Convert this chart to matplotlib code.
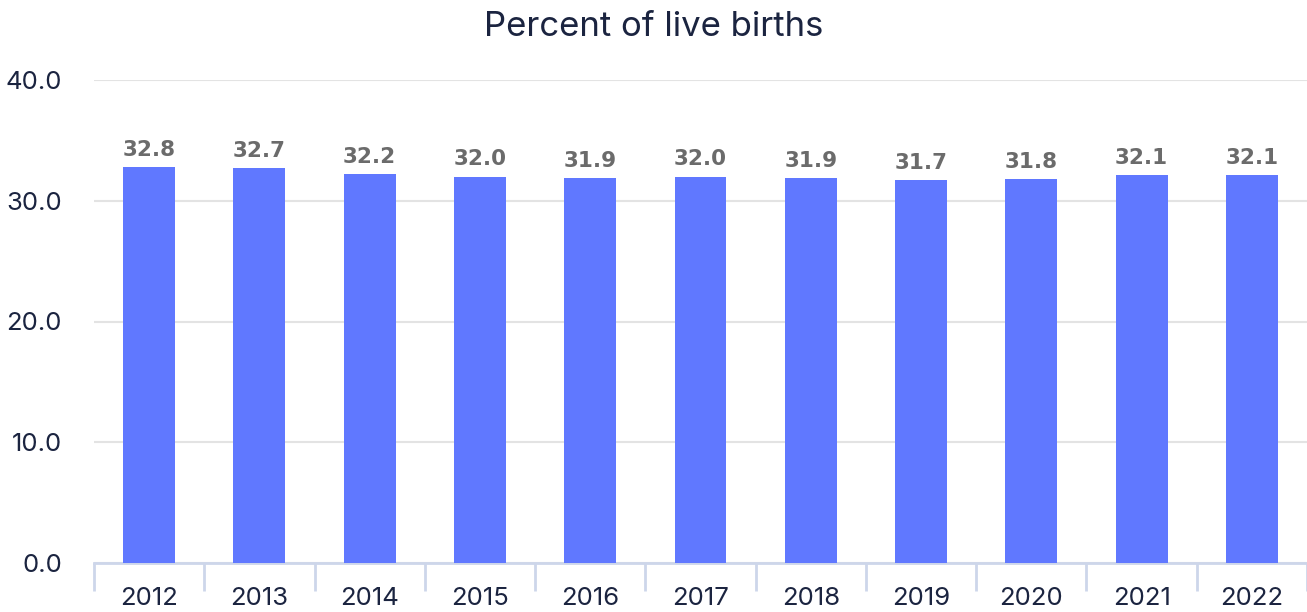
import matplotlib
matplotlib.use('Agg')
import matplotlib.pyplot as plt
import numpy as np

years = ['2012', '2013', '2014', '2015', '2016', '2017', '2018', '2019', '2020', '2021', '2022']
percent = [32.8, 32.7, 32.2, 32.0, 31.9, 32.0, 31.9, 31.7, 31.8, 32.1, 32.1]
y_ticks = [0, 10, 20, 30, 40]

bar_color = '#6078ff'
text_color = '#1b2440'
axis_color = '#cdd6ea'

plt.rcParams['font.family'] = ['Inter', 'DejaVu Sans']

fig = plt.figure(figsize=(13.07, 6.12), dpi=100)
ax = fig.add_axes([94 / 1307, 1 - 563 / 612, 1 - 94 / 1307, (563 - 80) / 612])

x = np.arange(len(years))
ax.bar(x, percent, width=0.47, color=bar_color, zorder=3)

# value labels above bars
for xi, v in zip(x, percent):
    ax.text(xi, v + 0.6, f'{v:.1f}', ha='center', va='bottom',
            fontsize=15.5, fontweight='bold', color='#6b6b6b',
            family=['DejaVu Sans'], zorder=4)

ax.set_ylim(0, 40)
ax.set_xlim(-0.5, len(years) - 0.5)
ax.set_yticks(y_ticks)
ax.set_yticklabels([f'{t:.1f}' for t in y_ticks], fontsize=18.5, color=text_color)
ax.yaxis.grid(True, color='#e3e3e3', linewidth=1.5, zorder=0)
ax.tick_params(axis='y', length=0, pad=23)

# year labels centered, tick marks on category boundaries
ax.set_xticks(x)
ax.set_xticklabels(years, fontsize=18.5, color=text_color)
ax.tick_params(axis='x', which='major', length=0, pad=17)
ax.set_xticks(np.arange(len(years) + 1) - 0.5, minor=True)
ax.tick_params(axis='x', which='minor', length=20, width=2, color=axis_color)

for side in ['top', 'right', 'left']:
    ax.spines[side].set_visible(False)
ax.spines['bottom'].set_color(axis_color)
ax.spines['bottom'].set_linewidth(2)

fig.text(0.5, 1 - 27 / 612, 'Percent of live births', ha='center', va='center',
         fontsize=25, color=text_color)

fig.savefig('out.png', dpi=100)
